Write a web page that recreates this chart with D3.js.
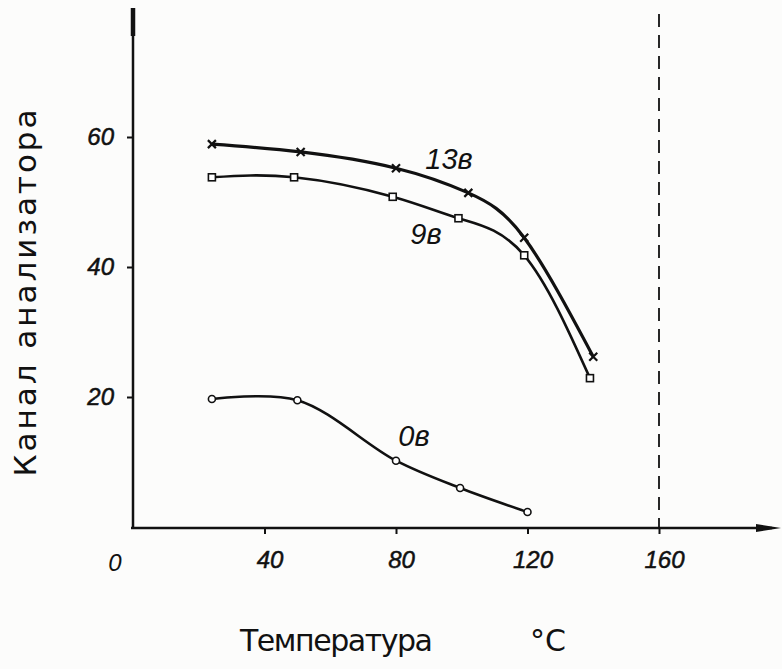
<!DOCTYPE html>
<html>
<head>
<meta charset="utf-8">
<script src="https://cdn.jsdelivr.net/npm/d3@7"></script>
<style>
  body { margin: 0; background: #fcfcfb; }
  svg { display: block; }
  .tick text { font-family: "Liberation Sans", sans-serif; font-style: italic; font-size: 24px; fill: #111; stroke: #111; stroke-width: 0.5px; }
  .tick line { stroke: #111; stroke-width: 2; }
</style>
</head>
<body>
<svg width="782" height="669"></svg>
<script>
// series (temperature °C -> analyser channel)
var temp13 = [24, 51, 80, 102, 119, 140];
var chan13 = [58.9, 57.7, 55.2, 51.4, 44.5, 26.2];

var temp9 = [24, 49, 79, 99, 119, 139];
var chan9 = [53.8, 53.8, 50.8, 47.5, 41.8, 22.9];

var temp0 = [24, 50, 80, 99.5, 120];
var chan0 = [19.7, 19.5, 10.2, 6.0, 2.3];

var xTicks = [40, 80, 120, 160];
var yTicks = [20, 40, 60];
var limitTemp = 160;

var svg = d3.select("svg");
var ink = "#111";

var x = d3.scaleLinear().domain([0, 160]).range([133, 659]);
var y = d3.scaleLinear().domain([0, 60]).range([527, 137]);

function zip(a, b) { return a.map(function(v, i) { return { t: v, c: b[i] }; }); }

// axes
svg.append("g")
    .attr("transform", "translate(0,528)")
    .call(d3.axisBottom(x).tickValues(xTicks).tickSize(6).tickPadding(17))
    .call(function(g) { g.select(".domain").remove(); })
    .selectAll("text").attr("dx", "5");

svg.append("g")
    .attr("transform", "translate(133,0)")
    .call(d3.axisLeft(y).tickValues(yTicks).tickSize(6).tickPadding(13))
    .call(function(g) { g.select(".domain").remove(); });

svg.append("text")
    .attr("x", 115).attr("y", 571)
    .attr("text-anchor", "middle")
    .style("font-family", "Liberation Sans, sans-serif")
    .style("font-style", "italic")
    .style("font-size", "24px")
    .attr("fill", ink)
    .text("0");

// axis lines with arrows
svg.append("line").attr("x1", 133).attr("y1", 8).attr("x2", 133).attr("y2", 529)
    .attr("stroke", ink).attr("stroke-width", 2.5);
svg.append("line").attr("x1", 133).attr("y1", 8).attr("x2", 133).attr("y2", 36)
    .attr("stroke", ink).attr("stroke-width", 4.5);
svg.append("line").attr("x1", 131).attr("y1", 528).attr("x2", 772).attr("y2", 528)
    .attr("stroke", ink).attr("stroke-width", 2.5);
svg.append("path").attr("d", "M756,524L781,528L756,532Z").attr("fill", ink);

// dashed limit line
svg.append("line")
    .attr("x1", x(limitTemp)).attr("x2", x(limitTemp))
    .attr("y1", 14).attr("y2", 528)
    .attr("stroke", ink).attr("stroke-width", 1.8)
    .attr("stroke-dasharray", "13,8");

// curves
var smooth = d3.line()
    .x(function(d) { return x(d.t); })
    .y(function(d) { return y(d.c); })
    .curve(d3.curveNatural);
var bendy = d3.line()
    .x(function(d) { return x(d.t); })
    .y(function(d) { return y(d.c); })
    .curve(d3.curveCatmullRom.alpha(0.5));

var d13 = zip(temp13, chan13), d9 = zip(temp9, chan9), d0 = zip(temp0, chan0);

svg.append("path").datum(d13).attr("d", smooth)
    .attr("fill", "none").attr("stroke", ink).attr("stroke-width", 3.2);
svg.append("path").datum(d9).attr("d", smooth)
    .attr("fill", "none").attr("stroke", ink).attr("stroke-width", 2.6);
svg.append("path").datum(d0).attr("d", bendy)
    .attr("fill", "none").attr("stroke", ink).attr("stroke-width", 2.6);

// markers
svg.selectAll(".cross").data(d13).enter().append("path")
    .attr("class", "cross")
    .attr("transform", function(d) { return "translate(" + x(d.t) + "," + y(d.c) + ")"; })
    .attr("d", "M-4,-4L4,4M-4,4L4,-4")
    .attr("stroke", ink).attr("stroke-width", 2.2);

svg.selectAll(".sq").data(d9).enter().append("rect")
    .attr("class", "sq")
    .attr("x", function(d) { return x(d.t) - 3.5; })
    .attr("y", function(d) { return y(d.c) - 3.5; })
    .attr("width", 7).attr("height", 7)
    .attr("fill", "#fff").attr("stroke", ink).attr("stroke-width", 1.6);

svg.selectAll(".circ").data(d0).enter().append("circle")
    .attr("class", "circ")
    .attr("cx", function(d) { return x(d.t); })
    .attr("cy", function(d) { return y(d.c); })
    .attr("r", 3.5)
    .attr("fill", "#fff").attr("stroke", ink).attr("stroke-width", 1.6);

// curve labels
var labels = [
  { text: "13в", x: 449, y: 169 },
  { text: "9в", x: 426, y: 244 },
  { text: "0в", x: 414, y: 446 }
];
svg.selectAll(".lbl").data(labels).enter().append("text")
    .attr("class", "lbl")
    .attr("x", function(d) { return d.x; })
    .attr("y", function(d) { return d.y; })
    .attr("text-anchor", "middle")
    .style("font-family", "Liberation Sans, sans-serif")
    .style("font-style", "italic")
    .style("font-size", "29px")
    .attr("fill", ink)
    .text(function(d) { return d.text; });

// axis titles
svg.append("text")
    .attr("transform", "translate(36,293) rotate(-90)")
    .attr("text-anchor", "middle")
    .style("font-family", "DejaVu Sans, sans-serif")
    .style("font-size", "31px")
    .attr("textLength", 367)
    .attr("fill", ink)
    .text("Канал анализатора");

svg.append("text")
    .attr("x", 240).attr("y", 651)
    .style("font-family", "DejaVu Sans, sans-serif")
    .style("font-size", "30px")
    .attr("textLength", 193)
    .attr("fill", ink)
    .text("Температура");

svg.append("text")
    .attr("x", 530).attr("y", 651)
    .style("font-family", "DejaVu Sans, sans-serif")
    .style("font-size", "30px")
    .attr("fill", ink)
    .text("°C");
</script>
</body>
</html>
